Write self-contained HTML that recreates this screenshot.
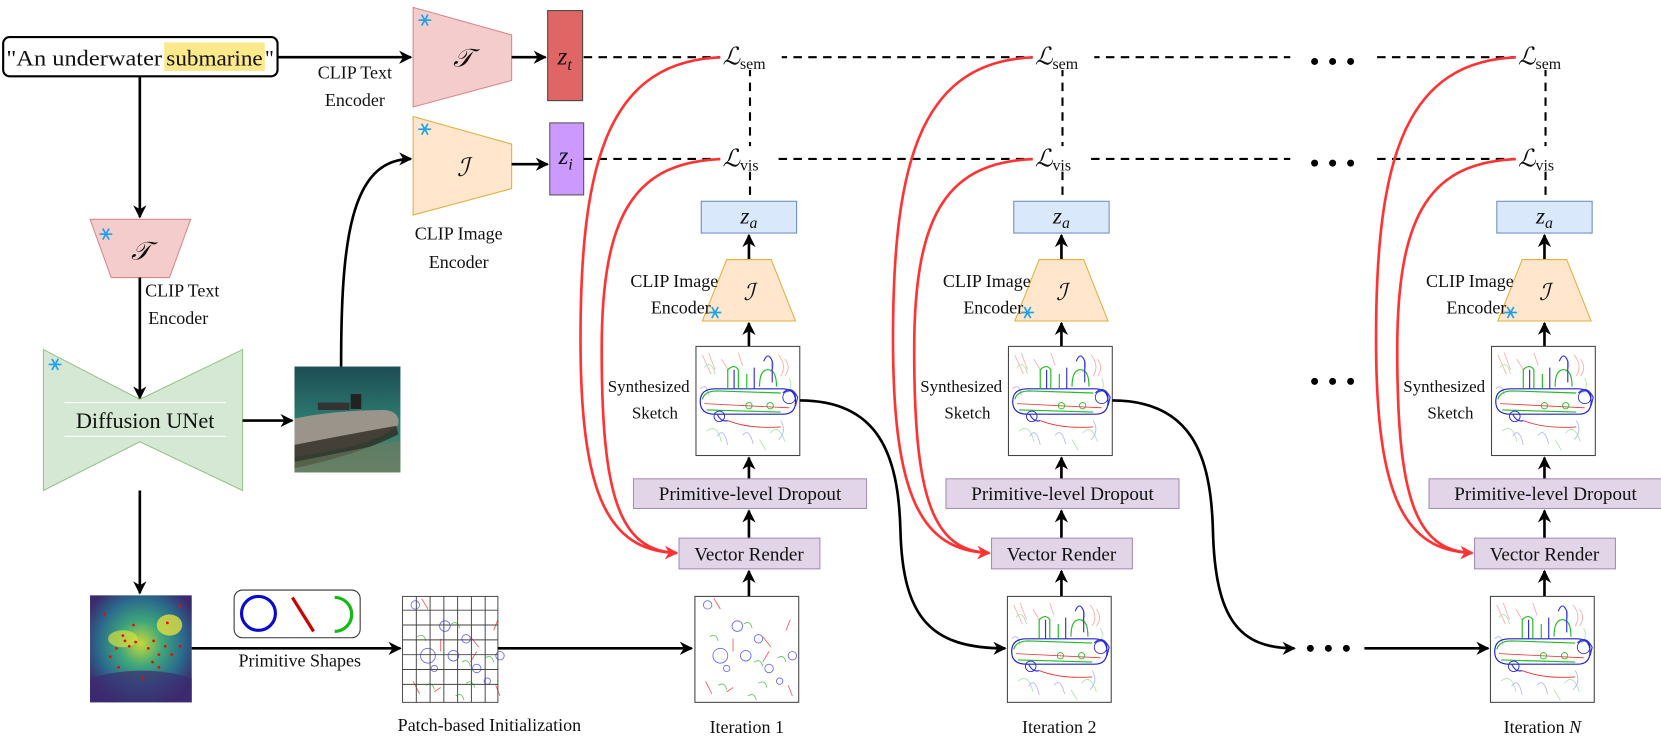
<!DOCTYPE html>
<html><head><meta charset="utf-8"><style>
html,body{margin:0;padding:0;background:#fff;}
svg{display:block;}
</style></head><body>
<svg width="1661" height="739" viewBox="0 0 1568 697.6" preserveAspectRatio="none" xmlns="http://www.w3.org/2000/svg" font-family="'Liberation Serif','Times New Roman','DejaVu Serif',serif" fill="#111">
<defs>
<marker id="ab" viewBox="0 0 10 10" refX="9" refY="5" markerWidth="5" markerHeight="5" orient="auto-start-reverse"><path d="M0,0 L10,5 L0,10 L3,5 z" fill="#000"/></marker>
<marker id="ar" viewBox="0 0 10 10" refX="9" refY="5" markerWidth="5" markerHeight="5" orient="auto"><path d="M0,0 L10,5 L0,10 L3,5 z" fill="#f33"/></marker>
<linearGradient id="water" x1="0" y1="0" x2="0" y2="1"><stop offset="0" stop-color="#1d4d55"/><stop offset="0.5" stop-color="#2c7a6e"/><stop offset="1" stop-color="#5e8a72"/></linearGradient>
<radialGradient id="heat" cx="0.5" cy="0.45" r="0.6"><stop offset="0" stop-color="#c8d83a"/><stop offset="0.35" stop-color="#3fa77b"/><stop offset="0.7" stop-color="#2a6a8c"/><stop offset="1" stop-color="#3b2a6e"/></radialGradient>
<g id="snow"><g stroke="#1fa3e8" stroke-width="1.6"><line x1="-6" y1="0" x2="6" y2="0"/><line x1="-3" y1="-5.2" x2="3" y2="5.2"/><line x1="-3" y1="5.2" x2="3" y2="-5.2"/></g><circle r="1.6" fill="#1fa3e8"/></g>
<g id="sk" fill="none" stroke-width="0.8">
<g opacity="0.5"><path d="M6,8 l8,18 M12,6 l6,16 M78,8 q8,10 2,20 M84,12 q6,8 0,16 M40,6 l4,12 M24,12 l6,10" stroke="#f55"/><path d="M10,80 q10,-8 14,10 M70,82 q8,-10 14,8 M60,88 l6,10 M8,20 q6,-8 10,6 M88,30 q4,8 -2,14" stroke="#5c5"/><path d="M20,85 q6,-10 10,8 M80,70 q6,10 -2,18 M4,40 q6,-6 8,6 M44,84 q6,-8 10,8 M70,10 q6,8 0,14" stroke="#66f"/></g>
<path d="M4,52 q0,-12 14,-12 l64,0 q12,0 12,12 q0,12 -12,12 l-64,0 q-14,0 -14,-12z" stroke="#22c" stroke-width="1.1"/>
<path d="M6,50 q2,-8 14,-8 l60,2 M10,60 l70,2 M30,40 l0,-18 q6,-6 10,0 l0,18 M48,40 l0,-14 M60,38 q0,-16 8,-16 q8,0 8,16" stroke="#2b2" stroke-width="1.1"/>
<path d="M36,22 l0,18 M55,20 l0,20 M64,14 q4,-10 8,0 l0,20 M20,64 q4,8 10,6 M82,44 q8,-8 14,4 l-2,8" stroke="#33d" stroke-width="1.1"/>
<path d="M8,54 l80,4 M30,70 q20,8 50,6" stroke="#e33"/>
<circle cx="22" cy="66" r="5" stroke="#22c"/><circle cx="88" cy="48" r="6" stroke="#22c"/><circle cx="50" cy="56" r="3" stroke="#2b2"/><circle cx="70" cy="56" r="3" stroke="#2b2"/>
</g>
<g id="ini" fill="none" stroke-width="0.8">
<circle cx="12" cy="8" r="4" stroke="#66f"/><circle cx="40" cy="28" r="5" stroke="#66f"/><circle cx="60" cy="40" r="4" stroke="#66f"/><circle cx="24" cy="56" r="7" stroke="#66f"/><circle cx="48" cy="56" r="5" stroke="#66f"/><circle cx="70" cy="68" r="4" stroke="#66f"/><circle cx="92" cy="56" r="4" stroke="#66f"/><circle cx="30" cy="68" r="3" stroke="#66f"/><circle cx="80" cy="80" r="3" stroke="#66f"/>
<path d="M18,2 l6,10 M90,22 l-4,10 M64,38 l8,10 M70,52 l-6,10 M10,80 l6,12 M88,84 l4,10 M36,40 l0,12 M30,90 l6,-4" stroke="#f55"/>
<path d="M14,38 q6,-4 8,4 M46,26 q6,-4 8,4 M56,62 q6,-4 8,4 M78,58 q6,-4 8,4 M22,84 q6,-4 8,4 M60,82 q6,-4 8,4 M50,94 q6,-4 8,4" stroke="#5c5"/>
</g>
</defs>

<!-- text prompt -->
<rect x="3" y="35" width="259" height="37" rx="6" fill="#fff" stroke="#000" stroke-width="2"/>
<rect x="155" y="40" width="95" height="27" fill="#fbe98c"/>
<text x="6" y="62" font-size="21" textLength="147" lengthAdjust="spacingAndGlyphs">"An underwater</text>
<text x="157" y="62" font-size="21" textLength="91" lengthAdjust="spacingAndGlyphs">submarine</text>
<text x="250" y="62" font-size="21">"</text>

<!-- top encoders -->
<line x1="262" y1="54" x2="388" y2="54" stroke="#000" stroke-width="2.5" marker-end="url(#ab)"/>
<text x="335" y="74" font-size="17" text-anchor="middle">CLIP Text</text>
<text x="335" y="100" font-size="17" text-anchor="middle">Encoder</text>
<polygon points="390,7 483,33 483,76 390,101" fill="#f4cccc" stroke="#d7898a"/>
<use href="#snow" x="401" y="19"/>
<text x="437" y="63" font-size="24" font-style="italic" text-anchor="middle">𝒯</text>
<line x1="483" y1="54" x2="515" y2="54" stroke="#000" stroke-width="2.5" marker-end="url(#ab)"/>
<rect x="517" y="10" width="33" height="85" fill="#e06666" stroke="#444"/>
<text x="533" y="61" font-size="24" font-style="italic" text-anchor="middle">z<tspan font-size="15" dy="5">t</tspan></text>

<polygon points="390,110 483,136 483,178 390,203" fill="#ffe6cc" stroke="#e0b040"/>
<use href="#snow" x="401" y="122"/>
<text x="437" y="166" font-size="24" font-style="italic" text-anchor="middle">ℐ</text>
<line x1="483" y1="155" x2="517" y2="155" stroke="#000" stroke-width="2.5" marker-end="url(#ab)"/>
<rect x="519" y="116" width="32" height="68" fill="#cc99ff" stroke="#555"/>
<text x="534" y="155" font-size="24" font-style="italic" text-anchor="middle">z<tspan font-size="15" dy="5">i</tspan></text>
<text x="433" y="226" font-size="17" text-anchor="middle">CLIP Image</text>
<text x="433" y="253" font-size="17" text-anchor="middle">Encoder</text>

<!-- left chain -->
<line x1="132" y1="72" x2="132" y2="205" stroke="#000" stroke-width="2.5" marker-end="url(#ab)"/>
<polygon points="85,207 180,207 160,262 105,262" fill="#f4cccc" stroke="#d7898a"/>
<use href="#snow" x="100" y="221"/>
<text x="133" y="245" font-size="24" font-style="italic" text-anchor="middle">𝒯</text>
<text x="137" y="280" font-size="17">CLIP Text</text>
<text x="140" y="306" font-size="17">Encoder</text>
<line x1="132" y1="262" x2="132" y2="376" stroke="#000" stroke-width="2.5" marker-end="url(#ab)"/>
<polygon points="41,330 132,377 229,330 229,463 132,417 41,463" fill="#d5e8d4" stroke="#98c38a"/>
<use href="#snow" x="52" y="344"/>
<line x1="61" y1="380" x2="213" y2="380" stroke="#fff" stroke-width="1"/>
<line x1="61" y1="412" x2="213" y2="412" stroke="#fff" stroke-width="1"/>
<text x="137" y="404" font-size="21" text-anchor="middle">Diffusion UNet</text>
<line x1="229" y1="397" x2="276" y2="397" stroke="#000" stroke-width="2.5" marker-end="url(#ab)"/>
<rect x="278" y="346" width="100" height="100" fill="url(#water)"/>
<path d="M278,395 q40,-8 86,-8 q14,2 12,14 q-20,20 -98,30z" fill="#9a948a"/>
<path d="M278,420 q50,-10 96,-18 l2,8 q-40,20 -98,32z" fill="#2e2a22" opacity="0.8"/>
<rect x="331" y="372" width="10" height="14" fill="#222"/>
<rect x="300" y="380" width="30" height="7" fill="#333"/>
<path d="M278,446 l0,-10 q50,-10 100,-20 l0,30z" fill="#6f7a5e" opacity="0.6"/>
<path d="M322,346 C322,230 330,150 388,150" fill="none" stroke="#000" stroke-width="2.5" marker-end="url(#ab)"/>
<line x1="132" y1="463" x2="132" y2="560" stroke="#000" stroke-width="2.5" marker-end="url(#ab)"/>
<rect x="85" y="562" width="96" height="101" fill="url(#heat)"/>
<ellipse cx="160" cy="590" rx="12" ry="10" fill="#e0e040" opacity="0.8"/>
<ellipse cx="116" cy="603" rx="14" ry="8" fill="#d6e040" opacity="0.7"/>
<path d="M85,640 q50,-14 96,0 l0,23 l-96,0z" fill="#3d2b70" opacity="0.7"/>
<g fill="#f00"><circle cx="99" cy="580" r="1.3"/><circle cx="110" cy="612" r="1.3"/><circle cx="118" cy="605" r="1.3"/><circle cx="122" cy="610" r="1.3"/><circle cx="128" cy="606" r="1.3"/><circle cx="104" cy="620" r="1.3"/><circle cx="140" cy="612" r="1.3"/><circle cx="145" cy="605" r="1.3"/><circle cx="150" cy="618" r="1.3"/><circle cx="156" cy="610" r="1.3"/><circle cx="162" cy="618" r="1.3"/><circle cx="170" cy="610" r="1.3"/><circle cx="144" cy="625" r="1.3"/><circle cx="158" cy="588" r="1.3"/><circle cx="126" cy="590" r="1.3"/><circle cx="116" cy="600" r="1.3"/><circle cx="112" cy="630" r="1.3"/><circle cx="135" cy="640" r="1.3"/><circle cx="170" cy="572" r="1.3"/><circle cx="150" cy="630" r="1.3"/></g>
<rect x="221" y="557" width="119" height="45" rx="8" fill="#fff" stroke="#333"/>
<circle cx="244" cy="579" r="16" fill="none" stroke="#0a0acc" stroke-width="3"/>
<line x1="276" y1="564" x2="296" y2="596" stroke="#cc0000" stroke-width="3"/>
<path d="M316,564 a16,16 0 0 1 0,32" fill="none" stroke="#11bb11" stroke-width="3"/>
<line x1="181" y1="612" x2="378" y2="612" stroke="#000" stroke-width="2.5" marker-end="url(#ab)"/>
<text x="283" y="629" font-size="17" text-anchor="middle">Primitive Shapes</text>
<rect x="380" y="563" width="90" height="100" fill="#fff"/>
<use href="#ini" x="380" y="563"/>
<g stroke="#444" stroke-width="0.9" fill="none"><rect x="380" y="563" width="90" height="100"/>
<path d="M393,563v100M406,563v100M419,563v100M432,563v100M445,563v100M458,563v100M380,576h90M380,590h90M380,604h90M380,618h90M380,632h90M380,646h90"/></g>
<text x="462" y="690" font-size="17" text-anchor="middle">Patch-based Initialization</text>
<line x1="470" y1="612" x2="653" y2="612" stroke="#000" stroke-width="2.5" marker-end="url(#ab)"/>

<!-- loss rows -->
<g stroke="#000" stroke-width="2" stroke-dasharray="8,6" fill="none">
<path d="M551,54 H680 M735,54 H975 M1030,54 H1218 M1300,54 H1430"/>
<path d="M551,150 H680 M735,150 H975 M1030,150 H1218 M1300,150 H1430"/>
<path d="M708,64 V138 M708,162 V190 M1003,64 V138 M1003,162 V190 M1459,64 V138 M1459,162 V190"/>
</g>
<g fill="#000">
<circle cx="1241" cy="58" r="3.3"/><circle cx="1258" cy="58" r="3.3"/><circle cx="1275" cy="58" r="3.3"/>
<circle cx="1241" cy="154" r="3.3"/><circle cx="1258" cy="154" r="3.3"/><circle cx="1275" cy="154" r="3.3"/>
<circle cx="1241" cy="360" r="3.3"/><circle cx="1258" cy="360" r="3.3"/><circle cx="1275" cy="360" r="3.3"/>
<circle cx="1237" cy="612" r="3.3"/><circle cx="1254" cy="612" r="3.3"/><circle cx="1271" cy="612" r="3.3"/>
</g>

<!-- columns -->
<g id="col">
<path d="M684,54 C575,56 548,150 548,320 C548,470 575,520 639,522" fill="none" stroke="#f33" stroke-width="2.5" marker-end="url(#ar)"/>
<path d="M684,150 C600,152 568,200 568,330 C568,470 585,520 639,522" fill="none" stroke="#f33" stroke-width="2.5" marker-end="url(#ar)"/>
<rect x="680" y="42" width="58" height="24" fill="#fff"/>
<text x="682" y="61" font-size="23" font-style="italic">ℒ<tspan font-size="15" font-style="normal" dy="4">sem</tspan></text>
<rect x="680" y="138" width="52" height="24" fill="#fff"/>
<text x="682" y="157" font-size="23" font-style="italic">ℒ<tspan font-size="15" font-style="normal" dy="4">vis</tspan></text>
<rect x="662" y="190" width="90" height="30" fill="#dae8fc" stroke="#6c8ebf"/>
<text x="707" y="211" font-size="22" font-style="italic" text-anchor="middle">z<tspan font-size="15" dy="4">a</tspan></text>
<line x1="707" y1="245" x2="707" y2="222" stroke="#000" stroke-width="2.5" marker-end="url(#ab)"/>
<polygon points="686,245 728,245 751,303 663,303" fill="#ffe6cc" stroke="#e0b040"/>
<text x="707" y="283" font-size="22" font-style="italic" text-anchor="middle">ℐ</text>
<use href="#snow" x="675" y="295"/>
<text x="678" y="271" font-size="17" text-anchor="end">CLIP Image</text>
<text x="671" y="296" font-size="17" text-anchor="end">Encoder</text>
<line x1="707" y1="327" x2="707" y2="305" stroke="#000" stroke-width="2.5" marker-end="url(#ab)"/>
<rect x="657" y="327" width="98" height="103" fill="#fff" stroke="#444"/>
<use href="#sk" x="657" y="327"/>
<text x="651" y="370" font-size="16" text-anchor="end">Synthesized</text>
<text x="640" y="395" font-size="16" text-anchor="end">Sketch</text>
<line x1="707" y1="452" x2="707" y2="432" stroke="#000" stroke-width="2.5" marker-end="url(#ab)"/>
<rect x="598" y="452" width="220" height="28" fill="#e1d5e7" stroke="#a48cb8"/>
<text x="708" y="472" font-size="18" text-anchor="middle">Primitive-level Dropout</text>
<line x1="707" y1="508" x2="707" y2="482" stroke="#000" stroke-width="2.5" marker-end="url(#ab)"/>
<rect x="641" y="508" width="133" height="29" fill="#e1d5e7" stroke="#a48cb8"/>
<text x="707" y="529" font-size="18" text-anchor="middle">Vector Render</text>
<line x1="707" y1="563" x2="707" y2="539" stroke="#000" stroke-width="2.5" marker-end="url(#ab)"/>
</g>
<use href="#col" x="295"/>
<use href="#col" x="751"/>

<!-- iteration images -->
<rect x="656" y="563" width="98" height="100" fill="#fff" stroke="#444"/>
<use href="#ini" x="656" y="563"/>
<text x="705" y="692" font-size="17" text-anchor="middle">Iteration 1</text>
<rect x="951" y="563" width="98" height="100" fill="#fff" stroke="#444"/>
<use href="#sk" x="951" y="563"/>
<text x="1000" y="692" font-size="17" text-anchor="middle">Iteration 2</text>
<rect x="1407" y="563" width="98" height="100" fill="#fff" stroke="#444"/>
<use href="#sk" x="1407" y="563"/>
<text x="1456" y="692" font-size="17" text-anchor="middle">Iteration <tspan font-style="italic">N</tspan></text>

<!-- black curves -->
<path d="M755,378 C830,378 848,430 850,500 C852,585 880,612 949,612" fill="none" stroke="#000" stroke-width="2.5" marker-end="url(#ab)"/>
<path d="M1050,378 C1125,378 1143,430 1145,500 C1147,585 1170,612 1222,612" fill="none" stroke="#000" stroke-width="2.5" marker-end="url(#ab)"/>
<line x1="1288" y1="612" x2="1405" y2="612" stroke="#000" stroke-width="2.5" marker-end="url(#ab)"/>
</svg>
</body></html>
